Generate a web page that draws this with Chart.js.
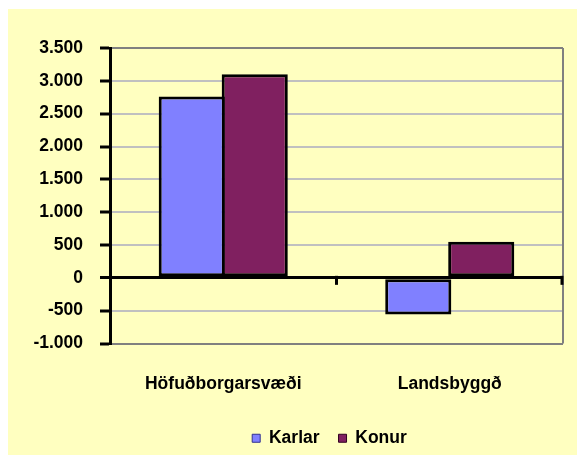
<!DOCTYPE html>
<html>
<head>
<meta charset="utf-8">
<script src="https://cdn.jsdelivr.net/npm/chart.js@4/dist/chart.umd.min.js"></script>
<style>
  html, body { margin: 0; padding: 0; background: #ffffff; }
  #wrap { position: absolute; left: 8px; top: 9px; width: 569px; height: 446px; background: #FFFFC0; }
  canvas { display: block; }
</style>
</head>
<body>
<div id="wrap"><canvas id="c" width="569" height="446"></canvas></div>
<script>
const categories = ['Höfuðborgarsvæði', 'Landsbyggð'];
const seriesNames = ['Karlar', 'Konur'];
const karlar = [2760, -560];
const konur = [3100, 550];
const yTicks = [-1000, -500, 0, 500, 1000, 1500, 2000, 2500, 3000, 3500];
const yTickLabels = ['-1.000', '-500', '0', '500', '1.000', '1.500', '2.000', '2.500', '3.000', '3.500'];
const seriesColors = ['#8080FF', '#802060'];

const FONT = { family: '"Liberation Sans", Arial, sans-serif', size: 17.5, weight: 'bold' };

const extras = {
  id: 'extras',
  afterLayout(chart) {
    const lg = chart.legend;
    if (lg) {
      lg.left += 44; lg.right += 44;
      lg.top += 2; lg.bottom += 2;
    }
  },
  afterDraw(chart) {
    const { ctx, chartArea } = chart;
    const ys = chart.scales.y;
    ctx.save();
    ctx.strokeStyle = '#808080';
    ctx.lineWidth = 2;
    ctx.beginPath();
    ctx.moveTo(chartArea.right, chartArea.top);
    ctx.lineTo(chartArea.right, chartArea.bottom);
    ctx.stroke();
    const y0 = ys.getPixelForValue(0);
    const n = categories.length;
    const w = (chartArea.right - chartArea.left) / n;
    ctx.strokeStyle = '#000000';
    ctx.lineWidth = 3;
    for (let i = 1; i <= n; i++) {
      const x = chartArea.left + i * w - (i === n ? 1 : 0);
      ctx.beginPath();
      ctx.moveTo(x, y0 - 2);
      ctx.lineTo(x, y0 + 7);
      ctx.stroke();
    }
    ctx.restore();
  }
};

new Chart(document.getElementById('c'), {
  type: 'bar',
  data: {
    labels: categories,
    datasets: [
      { label: seriesNames[0], data: karlar, backgroundColor: seriesColors[0], borderColor: '#000000', borderWidth: 3, borderSkipped: false, inflateAmount: 0 },
      { label: seriesNames[1], data: konur, backgroundColor: seriesColors[1], borderColor: '#000000', borderWidth: 3, borderSkipped: false, inflateAmount: 0 }
    ]
  },
  options: {
    responsive: false,
    animation: false,
    devicePixelRatio: 1,
    layout: { padding: { left: 0, right: 14, top: 39, bottom: 0 } },
    datasets: { bar: { categoryPercentage: 0.556, barPercentage: 1.05 } },
    plugins: {
      tooltip: { enabled: false },
      legend: {
        position: 'bottom',
        labels: {
          font: FONT,
          color: '#000000',
          boxWidth: 8,
          boxHeight: 8,
          padding: 19,
          generateLabels(chart) {
            return chart.data.datasets.map((ds, i) => ({
              text: ds.label,
              fillStyle: ds.backgroundColor,
              strokeStyle: i === 0 ? '#303090' : '#300020',
              lineWidth: 1,
              datasetIndex: i,
              hidden: false,
              fontColor: '#000000'
            }));
          }
        }
      }
    },
    scales: {
      x: {
        grid: { display: false },
        border: { display: false },
        ticks: { font: FONT, color: '#000000', padding: 22, maxRotation: 0 },
        afterFit(scale) { scale.height = 65; }
      },
      y: {
        min: -1000,
        max: 3500,
        afterBuildTicks(scale) { scale.ticks = yTicks.map(v => ({ value: v })); },
        afterFit(scale) { scale.width = 102; },
        border: { display: true, color: '#000000', width: 3 },
        grid: {
          color(ctx) {
            const v = ctx.tick && ctx.tick.value;
            if (v === 0) return '#000000';
            if (v === 3500 || v === -1000) return '#808080';
            return '#C0C0C0';
          },
          lineWidth(ctx) {
            const v = ctx.tick && ctx.tick.value;
            return v === 0 ? 3 : 2;
          },
          tickColor: '#000000',
          tickLength: 10,
          tickWidth: 3
        },
        ticks: {
          font: FONT,
          color: '#000000',
          padding: 17,
          callback(value) {
            const idx = yTicks.indexOf(value);
            return idx >= 0 ? yTickLabels[idx] : '';
          }
        }
      }
    }
  },
  plugins: [extras]
});
</script>
</body>
</html>
